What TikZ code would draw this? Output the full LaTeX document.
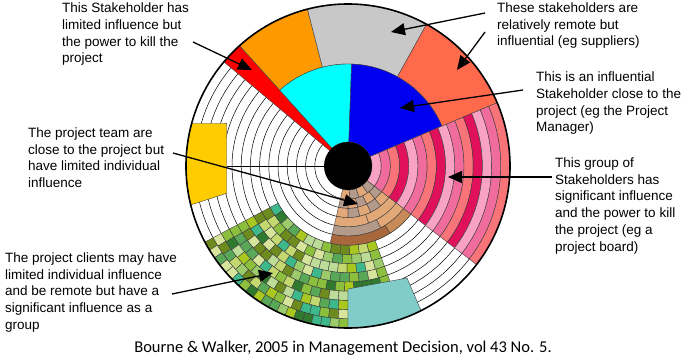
\documentclass[tikz,border=0pt]{standalone}
\usepackage{fontspec}
\setmainfont{Liberation Sans}
\newfontfamily\capfont{Carlito}
\usetikzlibrary{arrows.meta}

\definecolor{cRed}{HTML}{FF0000}
\definecolor{cOrange}{HTML}{FF9900}
\definecolor{cGrey}{HTML}{C8C8C8}
\definecolor{cSalmon}{HTML}{FF6A4D}
\definecolor{cCyan}{HTML}{00FFFF}
\definecolor{cBlue}{HTML}{0000F0}
\definecolor{cYellow}{HTML}{FFCC00}
\definecolor{cTeal}{HTML}{80CCC8}
\definecolor{pk0}{HTML}{F9A3C4}
\definecolor{pk1}{HTML}{F06C9C}
\definecolor{pk2}{HTML}{F87478}
\definecolor{pk3}{HTML}{E0105A}
\definecolor{bTan}{HTML}{E3A878}
\definecolor{bGrey}{HTML}{B39A8A}
\definecolor{bDark}{HTML}{A8683C}
\definecolor{bMid}{HTML}{C88A56}
\definecolor{gr1}{HTML}{A8C820}
\definecolor{gr2}{HTML}{6E8B1E}
\definecolor{gr3}{HTML}{3CB88A}
\definecolor{gr4}{HTML}{2F7A2F}
\definecolor{gr5}{HTML}{BCDC98}
\definecolor{gr6}{HTML}{D6E49C}
\definecolor{gr7}{HTML}{9BCB6A}
\definecolor{gr8}{HTML}{58A858}
\definecolor{gr9}{HTML}{C4D870}
\definecolor{gr10}{HTML}{8CBF3C}

\newcommand\annsec[5]{%
  \filldraw[fill=#1, sectline] (#2:#4pt) arc[start angle=#2, end angle=#3, radius=#4pt]
    -- (#3:#5pt) arc[start angle=#3, end angle=#2, radius=#5pt] -- cycle;}

\tikzset{
  sectline/.style={draw=black!75, line width=0.4pt},
  ringline/.style={draw=black, line width=0.5pt},
  arr/.style={draw=black, line width=1.3pt, -{Triangle[length=14pt,width=12pt]}},
  lbl/.style={inner sep=0pt, anchor=north west, align=left,
              font=\fontsize{13.5}{16.7}\selectfont},
}

\begin{document}
\begin{tikzpicture}[x=1pt,y=1pt]
\useasboundingbox (0,0) rectangle (688,360);
\fill[white] (0,0) rectangle (688,360);

\begin{scope}[shift={(348,194)}]
  % white disk and rings
  \fill[white] (0,0) circle[radius=162pt];
  \foreach \k in {1,...,14} {
    \pgfmathsetmacro\rr{24+9.2*\k}
    \draw[ringline] (0,0) circle[radius=\rr pt];
  }
  \draw[ringline] (180:24pt) -- (-121.3pt,0pt);

  % big sectors
  \annsec{cRed}{132}{140}{24}{162}
  \annsec{cOrange}{104.5}{132}{102}{162}
  \annsec{cGrey}{61}{104.5}{102}{162}
  \annsec{cSalmon}{23}{61}{102}{162}
  \annsec{cCyan}{88}{132}{24}{102}
  \annsec{cBlue}{23}{88}{24}{102}
  \filldraw[fill=cYellow, sectline] (-121.3pt,42.7pt) -- (-121.3pt,-27.3pt) -- (193.9:162pt)
    arc[start angle=193.9, end angle=164.7, radius=162pt] -- cycle;

  % pink rings
  \foreach \k in {0,...,14} {
    \pgfmathsetmacro\ra{24+9.2*\k}
    \pgfmathsetmacro\rb{\ra+9.2}
    \pgfmathtruncatemacro\pc{mod(\k,4)}
    \annsec{pk\pc}{-37.5}{23}{\ra}{\rb}
  }

  % green checker
  \pgfmathsetseed{12}
  \foreach \k in {6,...,14} {
    \pgfmathsetmacro\ra{24+9.2*\k}
    \pgfmathsetmacro\rb{\ra+9.2}
    \pgfmathsetmacro\aend{\k<11 ? -70 : -90}
    \pgfmathsetmacro\spn{\aend+152}
    \pgfmathtruncatemacro\nn{round(\spn*3.14159/180*(\ra+4.6)/9.2)}
    \foreach \j in {1,...,\nn} {
      \pgfmathsetmacro\aa{-152+(\j-1)*\spn/\nn}
      \pgfmathsetmacro\ab{-152+\j*\spn/\nn}
      \pgfmathrandominteger{\gc}{1}{10}
      \annsec{gr\gc}{\aa}{\ab}{\ra}{\rb}
    }
  }

  % teal box
  \filldraw[fill=cTeal, sectline] (0pt,-123pt) -- (59pt,-112pt) -- (-63.2:162pt)
    arc[start angle=-63.2, end angle=-90, radius=162pt] -- cycle;

  % brown cells
  \foreach \k/\nn/\st in {0/4/0,1/5/1,2/5/0} {
    \pgfmathsetmacro\ra{24+9.2*\k}
    \pgfmathsetmacro\rb{\ra+9.2}
    \foreach \j in {1,...,\nn} {
      \pgfmathsetmacro\aa{-103+(\j-1)*65.5/\nn}
      \pgfmathsetmacro\ab{-103+\j*65.5/\nn}
      \pgfmathtruncatemacro\pty{mod(\j+\st,2)}
      \ifnum\pty=0 \annsec{bGrey}{\aa}{\ab}{\ra}{\rb}\else\annsec{bTan}{\aa}{\ab}{\ra}{\rb}\fi
    }
  }
  \annsec{bTan}{-103}{-70}{51.6}{60.8}
  \annsec{bTan}{-70}{-37.5}{51.6}{60.8}
  \annsec{bGrey}{-103}{-62}{60.8}{70}
  \annsec{bTan}{-62}{-37.5}{60.8}{70}
  \annsec{bDark}{-103}{-58}{70}{79.2}
  \annsec{bMid}{-58}{-37.5}{70}{79.2}

  % outer circle and hub
  \draw[black, line width=1.6pt] (0,0) circle[radius=162pt];
  \fill[black] (0,0) circle[radius=24pt];
\end{scope}

% labels
\node[lbl] (tl) at (62,357.2) {This Stakeholder has\\limited influence but\\the power to kill the\\project};
\node[lbl] (tr) at (497,357.4) {These stakeholders are\\relatively remote but\\influential (eg suppliers)};
\node[lbl] (r1) at (536,288.2) {This is an influential\\Stakeholder close to the\\project (eg the Project\\Manager)};
\node[lbl] (r2) at (555,202.4) {This group of\\Stakeholders has\\significant influence\\and the power to kill\\the project (eg a\\project board)};
\node[lbl] (l1) at (28,232.4) {The project team are\\close to the project but\\have limited individual\\influence};
\node[lbl] (l2) at (5,107.4) {The project clients may have\\limited individual influence\\and be remote but have a\\significant influence as a\\group};
\node[inner sep=0pt, font=\capfont\fontsize{16.5}{19}\selectfont] (cap) at (343,12) {Bourne \& Walker, 2005 in Management Decision, vol 43 No. 5.};

% arrow ends
\coordinate (a1s) at (193,318); \coordinate (a1t) at (252,290);
\coordinate (a2s) at (485,347); \coordinate (a2t) at (391,328);
\coordinate (a3s) at (485,328); \coordinate (a3t) at (457,290);
\coordinate (a4s) at (523,270); \coordinate (a4t) at (400,252);
\coordinate (a5s) at (552,183); \coordinate (a5t) at (448,183);
\coordinate (a6s) at (173,207); \coordinate (a6t) at (358,156);
\coordinate (a7s) at (172,66);  \coordinate (a7t) at (273,87);

\draw[arr] (a1s) -- (a1t);
\draw[arr] (a2s) -- (a2t);
\draw[arr] (a3s) -- (a3t);
\draw[arr] (a4s) -- (a4t);
\draw[arr] (a5s) -- (a5t);
\draw[arr] (a6s) -- (a6t);
\draw[arr] (a7s) -- (a7t);
\end{tikzpicture}
\end{document}
